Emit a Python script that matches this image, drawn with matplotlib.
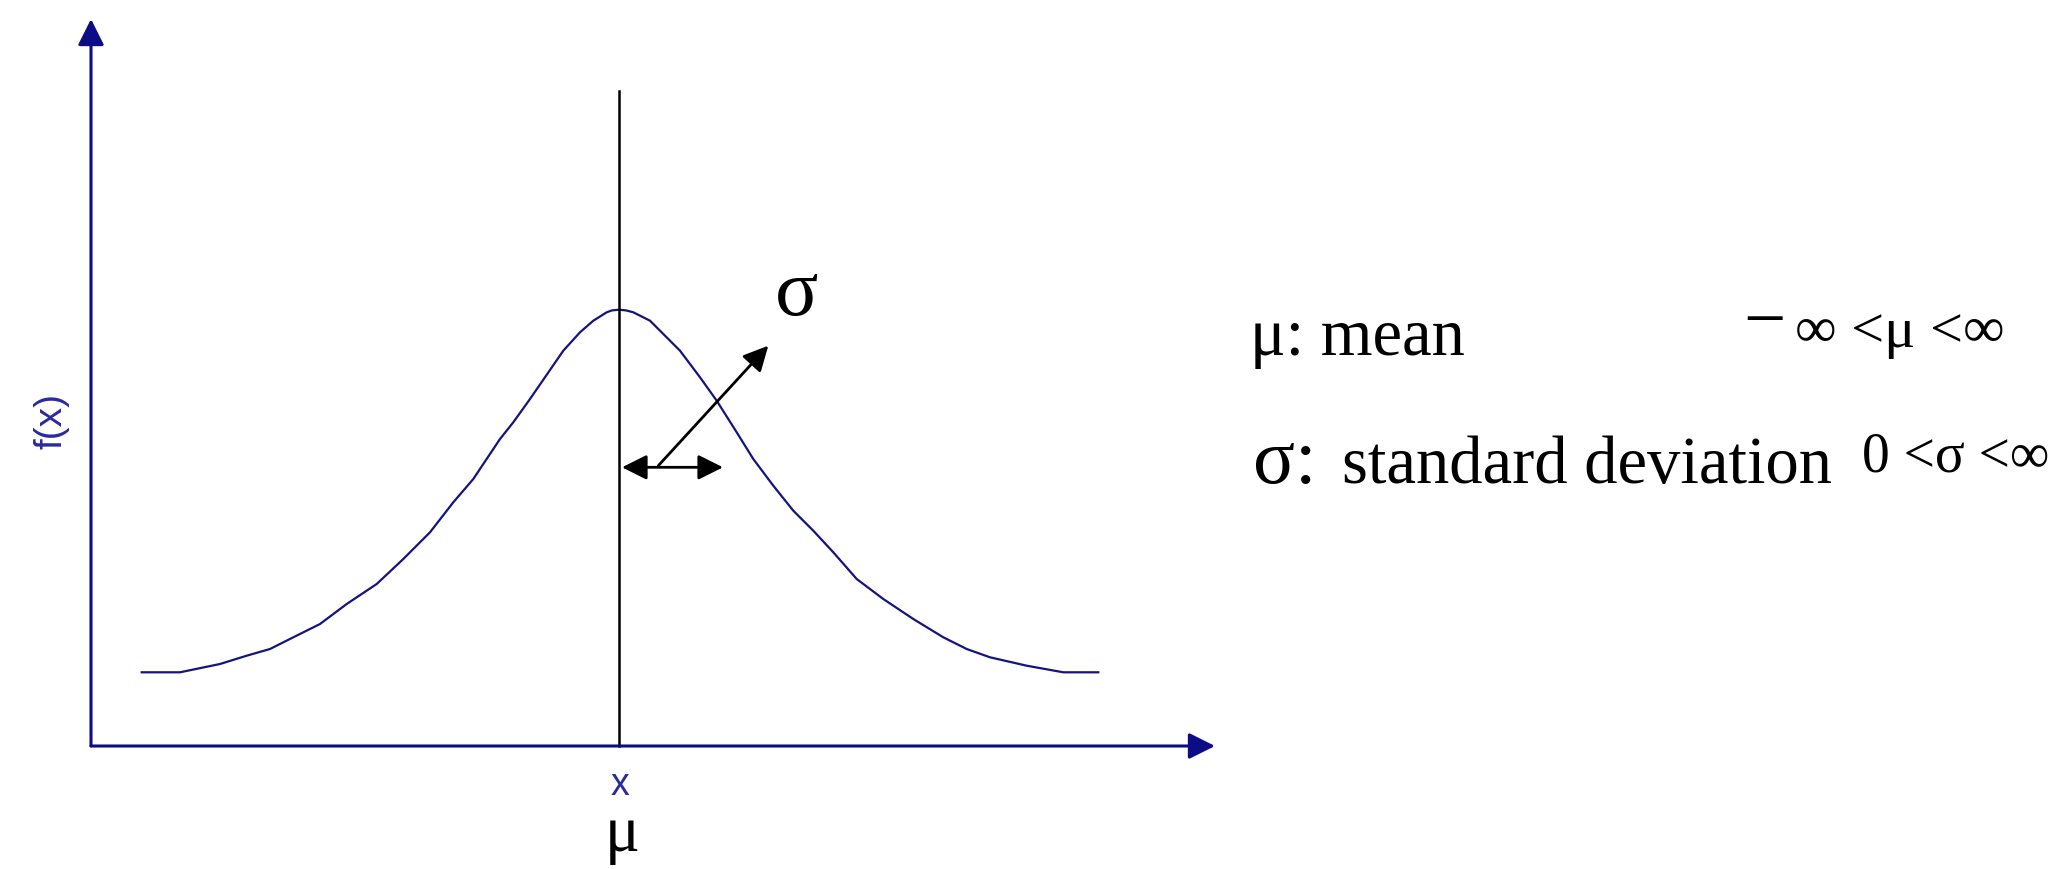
import matplotlib
matplotlib.use("Agg")
import matplotlib.pyplot as plt

# curve (origin at the corner of the axes)
curve_x = [50.7, 89, 129, 155.7, 179, 202.3, 229, 255.7, 285.7, 312.3, 339, 362.3,
           382.3, 409, 422.3, 439, 472.3, 489, 502.3, 515.7, 521, 528, 535,
           542.3, 559, 589, 609, 625.7, 645.7, 662.3, 682.3, 702.3, 722.3, 742.3,
           765.7, 792.3, 822.3, 852.3, 875.7, 899, 935.7, 972.3, 1007.3]
curve_y = [73.7, 73.7, 82, 90.3, 97, 108.7, 122, 142, 162, 187, 213.7, 243.7,
           267, 307, 323.7, 347, 395.3, 413.7, 425.3, 433.7, 435.6, 436.3, 435.6,
           433.7, 425.3, 395.3, 368.7, 345.3, 313.7, 287, 260.3, 235.3, 215.3, 193.7,
           167, 147, 127, 108.7, 97, 88.7, 80.3, 73.7, 73.7]
mean_x = 528
mean_line_top = 655
x_axis_end = 1124
y_axis_end = 727

legend_lines = ["\u03bc: mean", "standard deviation"]
ranges = ["\u221e <\u03bc <\u221e", "0 <\u03c3 <\u221e"]

AXIS = "#0c0c86"
CURVE = "#14147d"
LABEL = "#2a2aa0"

plt.rcParams["font.family"] = ["Liberation Serif", "DejaVu Serif"]

fig = plt.figure(figsize=(20.72, 8.70), dpi=100)
ax = fig.add_axes([0, 0, 1, 1])
ax.set_xlim(-91, 1981)
ax.set_ylim(-123, 747)
ax.axis("off")

# axes with arrow heads
ax.annotate("", xy=(0, y_axis_end), xytext=(0, 0),
            arrowprops=dict(arrowstyle="-|>", color=AXIS, lw=2.2,
                            mutation_scale=40, shrinkA=0, shrinkB=0))
ax.annotate("", xy=(x_axis_end, 0), xytext=(0, 0),
            arrowprops=dict(arrowstyle="-|>", color=AXIS, lw=2.2,
                            mutation_scale=40, shrinkA=0, shrinkB=0))

# density curve and mean line
ax.plot(curve_x, curve_y, color=CURVE, lw=1.6)
ax.plot([mean_x, mean_x], [0, mean_line_top], color="black", lw=1.8)

# sigma arrows
ax.annotate("", xy=(632, 278.7), xytext=(531, 278.7),
            arrowprops=dict(arrowstyle="<|-|>", color="black", lw=2,
                            mutation_scale=38, shrinkA=0, shrinkB=0))
ax.annotate("", xy=(677.3, 400.3), xytext=(567.3, 280.3),
            arrowprops=dict(arrowstyle="-|>", color="black", lw=2,
                            mutation_scale=38, shrinkA=0, shrinkB=0))
ax.text(706, 432, "\u03c3", fontsize=58, ha="center", va="baseline")

# axis labels
ax.text(-39, 326, "f(x)", fontsize=28, rotation=90, ha="center", va="center",
        color=LABEL, family=["Liberation Sans", "DejaVu Sans"])
ax.text(529, -48, "x", fontsize=27, ha="center", va="baseline",
        color=LABEL, family=["Liberation Sans", "DejaVu Sans"])
ax.text(531, -104, "\u03bc", fontsize=47, ha="center", va="baseline")

# parameter notes
ax.text(1159, 392, legend_lines[0], fontsize=48, ha="left", va="baseline")
ax.text(1162, 264, "\u03c3:", fontsize=56, ha="left", va="baseline")
ax.text(1251, 264, legend_lines[1], fontsize=48, ha="left", va="baseline")
ax.text(1652, 422, "\u2212", fontsize=54, ha="left", va="center")
ax.text(1704, 400, ranges[0], fontsize=42, ha="left", va="baseline")
ax.text(1771, 275, ranges[1], fontsize=40, ha="left", va="baseline")

fig.savefig("out.png", dpi=100)
